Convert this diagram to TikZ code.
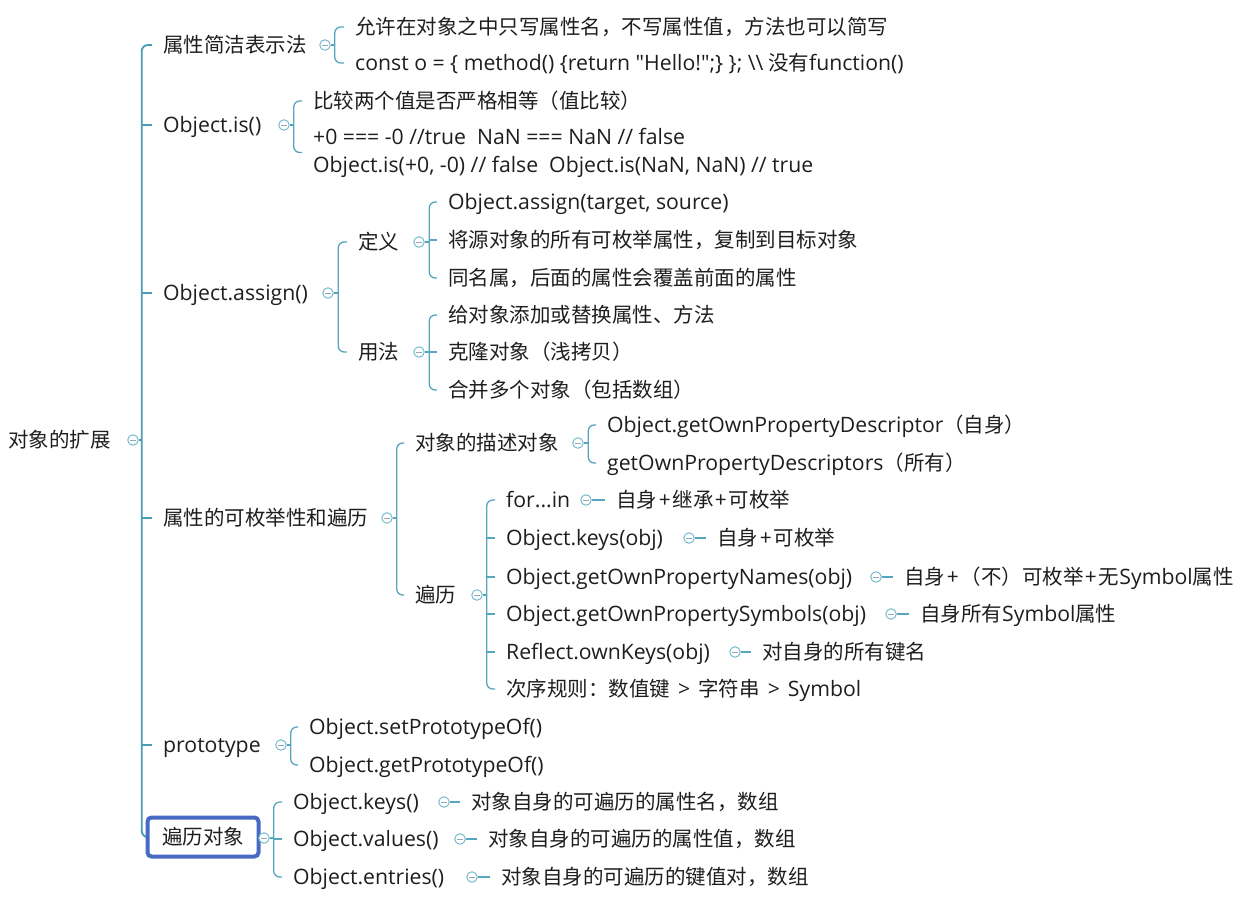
\documentclass[tikz,border=0pt]{standalone}
\usepackage{fontspec}
\setmainfont{Noto Sans CJK SC}
\newfontfamily\en{Open Sans}[Scale=1.035]
\definecolor{lnC}{RGB}{88,166,190}
\definecolor{rtC}{RGB}{72,156,182}
\definecolor{cirC}{RGB}{118,188,206}
\definecolor{minC}{RGB}{150,168,182}
\definecolor{txtC}{RGB}{30,30,30}
\definecolor{boxC}{RGB}{72,106,196}
\pgfdeclarelayer{bg}
\pgfsetlayers{bg,main}
\newcommand\mmfs{\fontsize{20.5}{28}\selectfont}
\newcommand\pls{\kern2pt+\kern2pt}
\newcommand\gtr{\kern8pt{\en >}\kern8pt}
\begin{document}
\begin{tikzpicture}[x=1pt,y=-1pt,
  txt/.style={anchor=west, inner xsep=11pt, inner ysep=0pt, text height=18pt, text depth=2.5pt, text=txtC, font=\mmfs},
  txtm/.style={anchor=west, inner xsep=11pt, inner ysep=0pt, align=left, text=txtC, font=\mmfs},
  tog/.style={circle, draw=cirC, line width=1pt, fill=white, minimum size=10.5pt, inner sep=0pt,
    path picture={\draw[minC, line width=0.9pt] ([xshift=-2.6pt]path picture bounding box.center) -- ([xshift=2.6pt]path picture bounding box.center);}},
  ln/.style={draw=lnC, line width=1.3pt},
  lnr/.style={draw=rtC, line width=1.8pt},
  br/.style={rounded corners=6pt},
  topicbox/.style={draw=boxC, line width=4pt, rounded corners=4pt, minimum width=111pt, minimum height=39pt, inner sep=0pt, text height=18pt, text depth=2.5pt, text=txtC, font=\mmfs}
]
\useasboundingbox (0,0) rectangle (1247,897);

% root
\node[txt] (r) at (-3,440) {对象的扩展};
\node[tog] (rc) at (133,440) {};
\coordinate (rs) at ([xshift=3pt]rc.east);

% level 1
\node[txt] (a) at (152,45) {属性简洁表示法};
\node[tog] (ac) at (325,45) {};
\coordinate (as) at ([xshift=4pt]ac.east);
\node[txt] (b) at (152,125) {\en Object.is()};
\node[tog] (bc) at (284,125) {};
\coordinate (bs) at ([xshift=4pt]bc.east);
\node[txt] (c) at (152,293) {\en Object.assign()};
\node[tog] (cc) at (328,293) {};
\coordinate (cs) at ([xshift=4.5pt]cc.east);
\node[txt] (d) at (152,518) {属性的可枚举性和遍历};
\node[tog] (dc) at (387,518) {};
\coordinate (ds) at ([xshift=4pt]dc.east);
\node[txt] (e) at (152,745) {\en prototype};
\node[tog] (ec) at (281,745) {};
\coordinate (es) at ([xshift=4pt]ec.east);
\node[topicbox] (f) at (203,837) {遍历对象};
\node[tog] (fc) at (264,838) {};
\coordinate (fs) at ([xshift=4pt]fc.east);

% a children
\node[txt] (a1) at (344,27) {允许在对象之中只写属性名，不写属性值，方法也可以简写};
\node[txt] (a2) at (344,63) {{\en const o = \{ method() \{return "Hello!";\} \}; \textbackslash\textbackslash} 没有{\en function()}};

% b children
\node[txt] (b1) at (302,101) {比较两个值是否严格相等（值比较）};
\node[txtm] (b2) at (302,152.5) {{\en +0 === -0 //true\ \ NaN === NaN // false}\\{\en Object.is(+0, -0) // false\ \ Object.is(NaN, NaN) // true}};

% c children
\node[txt] (c1) at (347,242) {定义};
\node[tog] (c1c) at (419,242) {};
\coordinate (c1s) at ([xshift=4.5pt]c1c.east);
\node[txt] (c2) at (347,352) {用法};
\node[tog] (c2c) at (419,352) {};
\coordinate (c2s) at ([xshift=4.5pt]c2c.east);
\node[txt] (c11) at (437,202) {\en Object.assign(target, source)};
\node[txt] (c12) at (437,240) {将源对象的所有可枚举属性，复制到目标对象};
\node[txt] (c13) at (437,278) {同名属，后面的属性会覆盖前面的属性};
\node[txt] (c21) at (437,315) {给对象添加或替换属性、方法};
\node[txt] (c22) at (437,352) {克隆对象（浅拷贝）};
\node[txt] (c23) at (437,390) {合并多个对象（包括数组）};

% d children
\node[txt] (d1) at (404,443) {对象的描述对象};
\node[tog] (d1c) at (578,443) {};
\coordinate (d1s) at ([xshift=4.5pt]d1c.east);
\node[txt] (d11) at (596,425) {{\en Object.getOwnPropertyDescriptor}（自身）};
\node[txt] (d12) at (596,463) {{\en getOwnPropertyDescriptors}（所有）};
\node[txt] (d2) at (404,595) {遍历};
\node[tog] (d2c) at (477,595) {};
\coordinate (d2s) at ([xshift=4pt]d2c.east);
\node[txt] (d21) at (495,500) {\en for...in};
\node[tog] (d21c) at (586,500) {};
\node[txt] (d21l) at (605,500) {自身\pls 继承\pls 可枚举};
\node[txt] (d22) at (495,538) {\en Object.keys(obj)};
\node[tog] (d22c) at (689,538) {};
\node[txt] (d22l) at (706,538) {自身\pls 可枚举};
\node[txt] (d23) at (495,577) {\en Object.getOwnPropertyNames(obj)};
\node[tog] (d23c) at (876,577) {};
\node[txt] (d23l) at (893,577) {自身\pls（不）可枚举\pls 无{\en Symbol}属性};
\node[txt] (d24) at (495,614) {\en Object.getOwnPropertySymbols(obj)};
\node[tog] (d24c) at (891,614) {};
\node[txt] (d24l) at (909,614) {自身所有{\en Symbol}属性};
\node[txt] (d25) at (495,652) {\en Reflect.ownKeys(obj)};
\node[tog] (d25c) at (735,652) {};
\node[txt] (d25l) at (751,652) {对自身的所有键名};
\node[txt] (d26) at (495,689) {次序规则：数值键\gtr 字符串\gtr{\en Symbol}};

% e children
\node[txt] (e1) at (298,727) {\en Object.setPrototypeOf()};
\node[txt] (e2) at (298,765) {\en Object.getPrototypeOf()};

% f children
\node[txt] (f1) at (282,802) {\en Object.keys()};
\node[tog] (f1c) at (444,802) {};
\node[txt] (f1l) at (460,802) {对象自身的可遍历的属性名，数组};
\node[txt] (f2) at (282,839) {\en Object.values()};
\node[tog] (f2c) at (460,839) {};
\node[txt] (f2l) at (477,839) {对象自身的可遍历的属性值，数组};
\node[txt] (f3) at (282,877) {\en Object.entries()};
\node[tog] (f3c) at (472,877) {};
\node[txt] (f3l) at (490,877) {对象自身的可遍历的键值对，数组};

\begin{pgfonlayer}{bg}
% root fan
\draw[lnr] (rc.east) -- (rs);
\draw[lnr,br] (a.west) -| (rs) |- (f.west);
\foreach \k in {b,c,d,e} \draw[lnr] (\k.west) -- (\k.west -| rs);
% a
\draw[ln] (ac.east) -- (as);
\draw[ln,br] (a1.west) -| (as) |- (a2.west);
% b
\draw[ln] (bc.east) -- (bs);
\draw[ln,br] (b1.west) -| (bs) |- (b2.west);
% c
\draw[ln] (cc.east) -- (cs);
\draw[ln,br] (c1.west) -| (cs) |- (c2.west);
\draw[ln] (c1c.east) -- (c1s);
\draw[ln,br] (c11.west) -| (c1s) |- (c13.west);
\draw[ln] (c12.west) -- (c12.west -| c1s);
\draw[ln] (c2c.east) -- (c2s);
\draw[ln,br] (c21.west) -| (c2s) |- (c23.west);
\draw[ln] (c22.west) -- (c22.west -| c2s);
% d
\draw[ln] (dc.east) -- (ds);
\draw[ln,br] (d1.west) -| (ds) |- (d2.west);
\draw[ln] (d1c.east) -- (d1s);
\draw[ln,br] (d11.west) -| (d1s) |- (d12.west);
\draw[ln] (d2c.east) -- (d2s);
\draw[ln,br] (d21.west) -| (d2s) |- (d26.west);
\foreach \k in {d22,d23,d24,d25} \draw[ln] (\k.west) -- (\k.west -| d2s);
\foreach \k in {d21,d22,d23,d24,d25} \draw[ln] (\k c.east) -- (\k l.west);
% e
\draw[ln] (ec.east) -- (es);
\draw[ln,br] (e1.west) -| (es) |- (e2.west);
% f
\draw[ln] (fc.east) -- (fs);
\draw[ln,br] (f1.west) -| (fs) |- (f3.west);
\draw[ln] (f2.west) -- (f2.west -| fs);
\foreach \k in {f1,f2,f3} \draw[ln] (\k c.east) -- (\k l.west);
\end{pgfonlayer}
\end{tikzpicture}
\end{document}
